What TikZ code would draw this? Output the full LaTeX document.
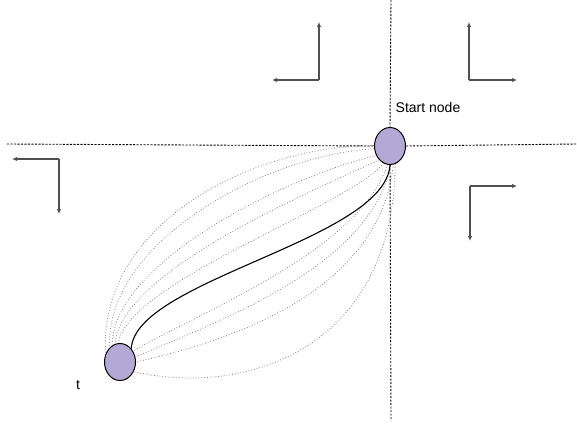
\documentclass[tikz,border=0pt]{standalone}
\usepackage{fontspec}
\setmainfont{Liberation Sans}
\usetikzlibrary{shapes.geometric,arrows.meta}
\definecolor{nodefill}{RGB}{180,168,214}
\definecolor{axisgray}{RGB}{80,80,80}
\tikzset{
  state/.style={ellipse,draw=black,line width=1pt,fill=nodefill,minimum width=31pt,minimum height=37pt,inner sep=0pt},
  axis/.style={black,line width=0.9pt,dash pattern=on 2.2pt off 1.3pt},
  dir/.style={axisgray,line width=1.4pt,-{Latex[length=5pt,width=4.5pt]}},
  path/.style={black!50,line width=0.8pt,dotted},
  best/.style={black,line width=1.1pt},
  lbl/.style={font=\fontsize{14}{16}\selectfont,inner sep=0pt}
}
\begin{document}
\begin{tikzpicture}[x=1pt,y=-1pt]
\useasboundingbox (0,0) rectangle (577,428);
\node[state] (s) at (390,146) {};
\node[state] (t) at (120,362) {};
\node[lbl] (sl) at (428,107) {Start node};
\node[lbl] (tl) at (78,385) {t};
% axes
\coordinate (hl) at (7,144);
\coordinate (hr) at (577,144);
\coordinate (vt) at (391,0);
\coordinate (vb) at (391,421);
\draw[axis] (hl) -- (s.west);
\draw[axis] (s.east) -- (hr);
\draw[axis] (vt) -- (s.north);
\draw[axis] (s.south) -- (vb);
% direction L-shapes
\coordinate (c1) at (319,80);
\coordinate (c1u) at (319,22);
\coordinate (c1l) at (272,80);
\draw[dir] (c1) -- (c1u);
\draw[dir] (c1) -- (c1l);
\coordinate (c2) at (469,80);
\coordinate (c2u) at (469,22);
\coordinate (c2r) at (517,80);
\draw[dir] (c2) -- (c2u);
\draw[dir] (c2) -- (c2r);
\coordinate (c3) at (59,159);
\coordinate (c3l) at (12,159);
\coordinate (c3d) at (59,214);
\draw[dir] (c3) -- (c3l);
\draw[dir] (c3) -- (c3d);
\coordinate (c4) at (470,186);
\coordinate (c4r) at (517,186);
\coordinate (c4d) at (470,241);
\draw[dir] (c4) -- (c4r);
\draw[dir] (c4) -- (c4d);
% dotted alternative paths
\draw[path] (s.178) .. controls (250,146) and (98,225) .. (t.150);
\draw[path] (s.190) .. controls (262,155) and (104,245) .. (t.125);
\draw[path] (s.215) .. controls (290,175) and (112,262) .. (t.115);
\draw[path] (s.232) .. controls (310,192) and (120,272) .. (t.105);
\draw[path] (s.250) .. controls (345,208) and (128,282) .. (t.95);
\draw[path] (s.262) .. controls (360,250) and (200,312) .. (t.40);
\draw[path] (s.272) .. controls (370,268) and (215,322) .. (t.18);
\draw[path] (s.280) .. controls (380,290) and (235,340) .. (t.0);
\draw[path] (s.286) .. controls (394,345) and (250,398) .. (t.-35);
% best path
\draw[best] (s.south) .. controls (385,240) and (135,280) .. (t.50);
\end{tikzpicture}
\end{document}
